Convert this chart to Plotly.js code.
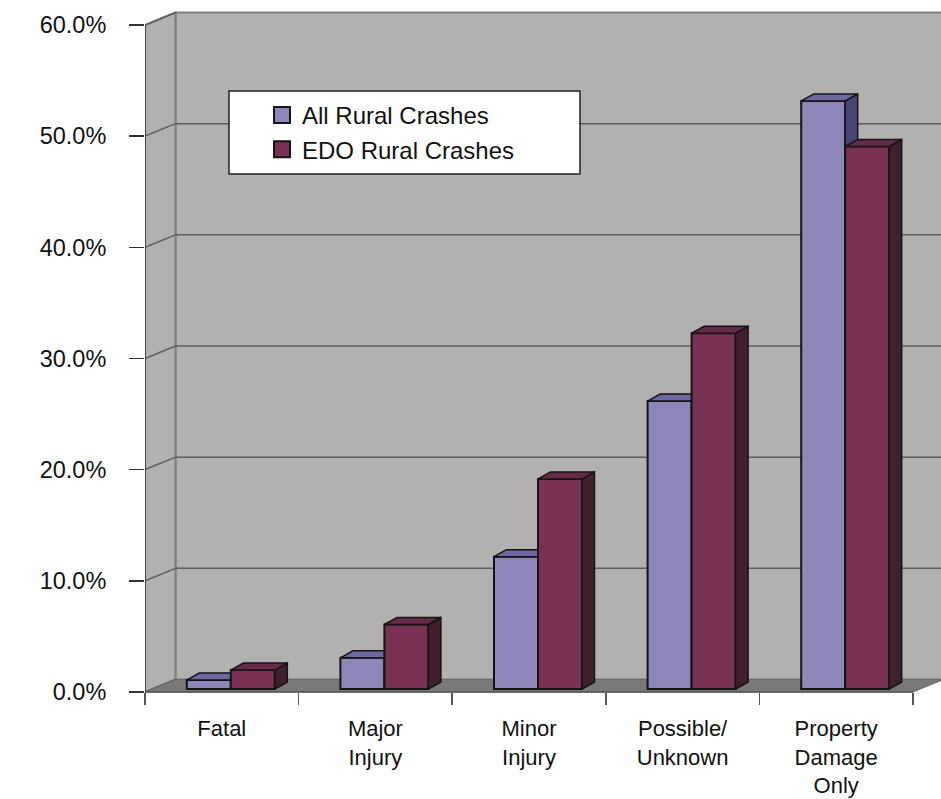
<!DOCTYPE html>
<html>
<head>
<meta charset="utf-8">
<script src="https://cdn.plot.ly/plotly-3.0.1.min.js"></script>
<style>
  html, body { margin: 0; padding: 0; background: #ffffff; }
  #chart { width: 941px; height: 799px; }
</style>
</head>
<body>
<div id="chart"></div>
<script>
// Crash severity shares, rural roads
const categories = ['Fatal', 'Major<br>Injury', 'Minor<br>Injury', 'Possible/<br>Unknown', 'Property<br>Damage<br>Only'];
const allRural = [0.8, 2.8, 11.9, 25.9, 52.9];
const edoRural = [1.7, 5.8, 18.9, 32.0, 48.8];
const seriesNames = ['All Rural Crashes', 'EDO Rural Crashes'];
const yTicks = [0, 10, 20, 30, 40, 50, 60];

// Pseudo-3D geometry, expressed in axis units (1 x unit = one category, 1 y unit = 1 %)
const PX_PER_CAT = 153.6;
const PX_PER_PCT = 11.117;
const WALL_DX = 30.5 / PX_PER_CAT;
const WALL_DY = 12.5 / PX_PER_PCT;
const BAR_W = 44 / PX_PER_CAT;
const BAR_SHIFT = 9 / PX_PER_CAT;
const BAR_BASE = 3 / PX_PER_PCT;
const BAR_DX = 12.5 / PX_PER_CAT;
const BAR_DY = 7 / PX_PER_PCT;
const X_MAX = 796 / PX_PER_CAT;
const Y_TOP = 60;

const palette = [
  { front: '#8c87b8', top: '#6d67a2', side: '#4a4574' },
  { front: '#7a3254', top: '#652a47', side: '#40202f' }
];
const edge = '#141414';
const font = 'Liberation Sans, Arial, sans-serif';

function leftEdge(i, slot) {
  return i + 0.5 + BAR_SHIFT - BAR_W + slot * BAR_W;
}

function faceTraces(values, slot, xa, ya) {
  const tx = [], ty = [], sx = [], sy = [];
  values.forEach((v, i) => {
    const xl = leftEdge(i, slot), xr = xl + BAR_W;
    const yt = BAR_BASE + v;
    tx.push(xl, xr, xr + BAR_DX, xl + BAR_DX, xl, null);
    ty.push(yt, yt, yt + BAR_DY, yt + BAR_DY, yt, null);
    sx.push(xr, xr + BAR_DX, xr + BAR_DX, xr, xr, null);
    sy.push(BAR_BASE, BAR_BASE + BAR_DY, yt + BAR_DY, yt, BAR_BASE, null);
  });
  const common = { type: 'scatter', mode: 'lines', fill: 'toself', xaxis: xa, yaxis: ya,
    showlegend: false, hoverinfo: 'skip', line: { color: edge, width: 1.5 } };
  return [
    Object.assign({}, common, { x: sx, y: sy, fillcolor: palette[slot].side }),
    Object.assign({}, common, { x: tx, y: ty, fillcolor: palette[slot].top })
  ];
}

function frontBars(values, slot, name, xa, ya) {
  return {
    type: 'bar', name: name, xaxis: xa, yaxis: ya, showlegend: false, hoverinfo: 'skip',
    x: values.map((v, i) => leftEdge(i, slot) + BAR_W / 2),
    y: values, base: BAR_BASE, width: BAR_W,
    marker: { color: palette[slot].front, line: { color: edge, width: 2 } }
  };
}

function legendEntry(slot, name) {
  return {
    type: 'scatter', mode: 'markers', name: name, x: [null], y: [null],
    legendgroup: 'g' + slot, hoverinfo: 'skip',
    marker: { symbol: 'square', size: 16, color: palette[slot].front, line: { color: edge, width: 2 } }
  };
}

const traces = [
  frontBars(allRural, 0, seriesNames[0], 'x', 'y'),
  ...faceTraces(allRural, 0, 'x', 'y'),
  frontBars(edoRural, 1, seriesNames[1], 'x2', 'y2'),
  ...faceTraces(edoRural, 1, 'x2', 'y2'),
  legendEntry(0, seriesNames[0]),
  legendEntry(1, seriesNames[1])
];

// Walls, floor and gridlines of the chart box
const wallFill = '#b2b1b0';
const wallEdge = '#7e7e7e';
const gridColor = '#5c5c5c';
const shapes = [];
const dataShape = (o) => Object.assign({ xref: 'x', yref: 'y', layer: 'below' }, o);
const pxToX = (px) => (px - 145) / PX_PER_CAT;
const pxToY = (py) => (692 - py) / PX_PER_PCT;

shapes.push(dataShape({ type: 'rect', x0: WALL_DX, x1: X_MAX + 1, y0: WALL_DY, y1: Y_TOP + WALL_DY,
  fillcolor: wallFill, line: { color: wallEdge, width: 2 } }));
shapes.push(dataShape({ type: 'path',
  path: `M0,0 L${WALL_DX},${WALL_DY} L${WALL_DX},${Y_TOP + WALL_DY} L0,${Y_TOP} Z`,
  fillcolor: wallFill, line: { color: wallEdge, width: 2 } }));
yTicks.forEach(t => {
  if (t > 0 && t < Y_TOP) {
    shapes.push(dataShape({ type: 'line', x0: WALL_DX, x1: X_MAX + 1, y0: t + WALL_DY, y1: t + WALL_DY,
      line: { color: gridColor, width: 1.5 } }));
  }
  shapes.push(dataShape({ type: 'line', x0: 0, x1: WALL_DX, y0: t, y1: t + WALL_DY,
    line: { color: gridColor, width: 1.5 } }));
});
const nCat = categories.length;
shapes.push(dataShape({ type: 'path',
  path: `M0,0 L${nCat},0 L${nCat + WALL_DX},${WALL_DY} L${WALL_DX},${WALL_DY} Z`,
  fillcolor: '#7b7977', line: { color: '#6a6a6a', width: 1 } }));
shapes.push(dataShape({ type: 'line', x0: 0, x1: 0, y0: 0, y1: Y_TOP, line: { color: '#333333', width: 1.5 } }));
shapes.push(dataShape({ type: 'line', x0: 0, x1: nCat, y0: 0, y1: 0, line: { color: '#555555', width: 1.5 } }));

// Legend panel, sitting in front of the back wall
shapes.push(dataShape({ type: 'rect',
  x0: pxToX(229), x1: pxToX(580), y0: pxToY(174), y1: pxToY(91),
  fillcolor: '#ffffff', line: { color: '#222222', width: 1.5 } }));

const plotW = 941 - 145;
const axisPos = (799 - 692) / 799;
const layout = {
  width: 941, height: 799,
  margin: { l: 145, r: 0, t: 0, b: 0 },
  paper_bgcolor: '#ffffff', plot_bgcolor: '#ffffff',
  font: { family: font, color: '#111111', size: 23.5 },
  showlegend: true,
  legend: {
    x: (262 - 145) / plotW, xanchor: 'left', y: (799 - 93) / 799, yanchor: 'top',
    bgcolor: 'rgba(0,0,0,0)', borderwidth: 0, traceorder: 'grouped', tracegroupgap: 0,
    font: { family: font, size: 24, color: '#111111' }
  },
  xaxis: {
    range: [0, X_MAX], anchor: 'free', position: axisPos,
    tickvals: categories.map((c, i) => i + 0.5), ticktext: categories,
    ticks: '', ticklabelstandoff: 21,
    tickfont: { family: font, size: 22, color: '#111111' },
    showgrid: false, zeroline: false, showline: false, fixedrange: true
  },
  xaxis2: {
    overlaying: 'x', matches: 'x', anchor: 'free', position: axisPos,
    tickvals: categories.map((c, i) => i).concat([nCat]),
    ticks: 'outside', ticklen: 12, tickwidth: 1.5, tickcolor: '#555555',
    showticklabels: false, showgrid: false, zeroline: false, showline: false
  },
  yaxis: {
    range: [-107 / PX_PER_PCT, 692 / PX_PER_PCT],
    tickvals: yTicks, ticktext: yTicks.map(v => v.toFixed(1) + '%'),
    ticks: 'outside', ticklen: 15, tickwidth: 1.5, tickcolor: '#333333',
    ticklabelstandoff: 18,
    showgrid: false, zeroline: false, showline: false, fixedrange: true
  },
  yaxis2: { overlaying: 'y', matches: 'y', anchor: 'x2', visible: false },
  shapes: shapes
};

Plotly.newPlot('chart', traces, layout, { staticPlot: true, displayModeBar: false });
</script>
</body>
</html>
